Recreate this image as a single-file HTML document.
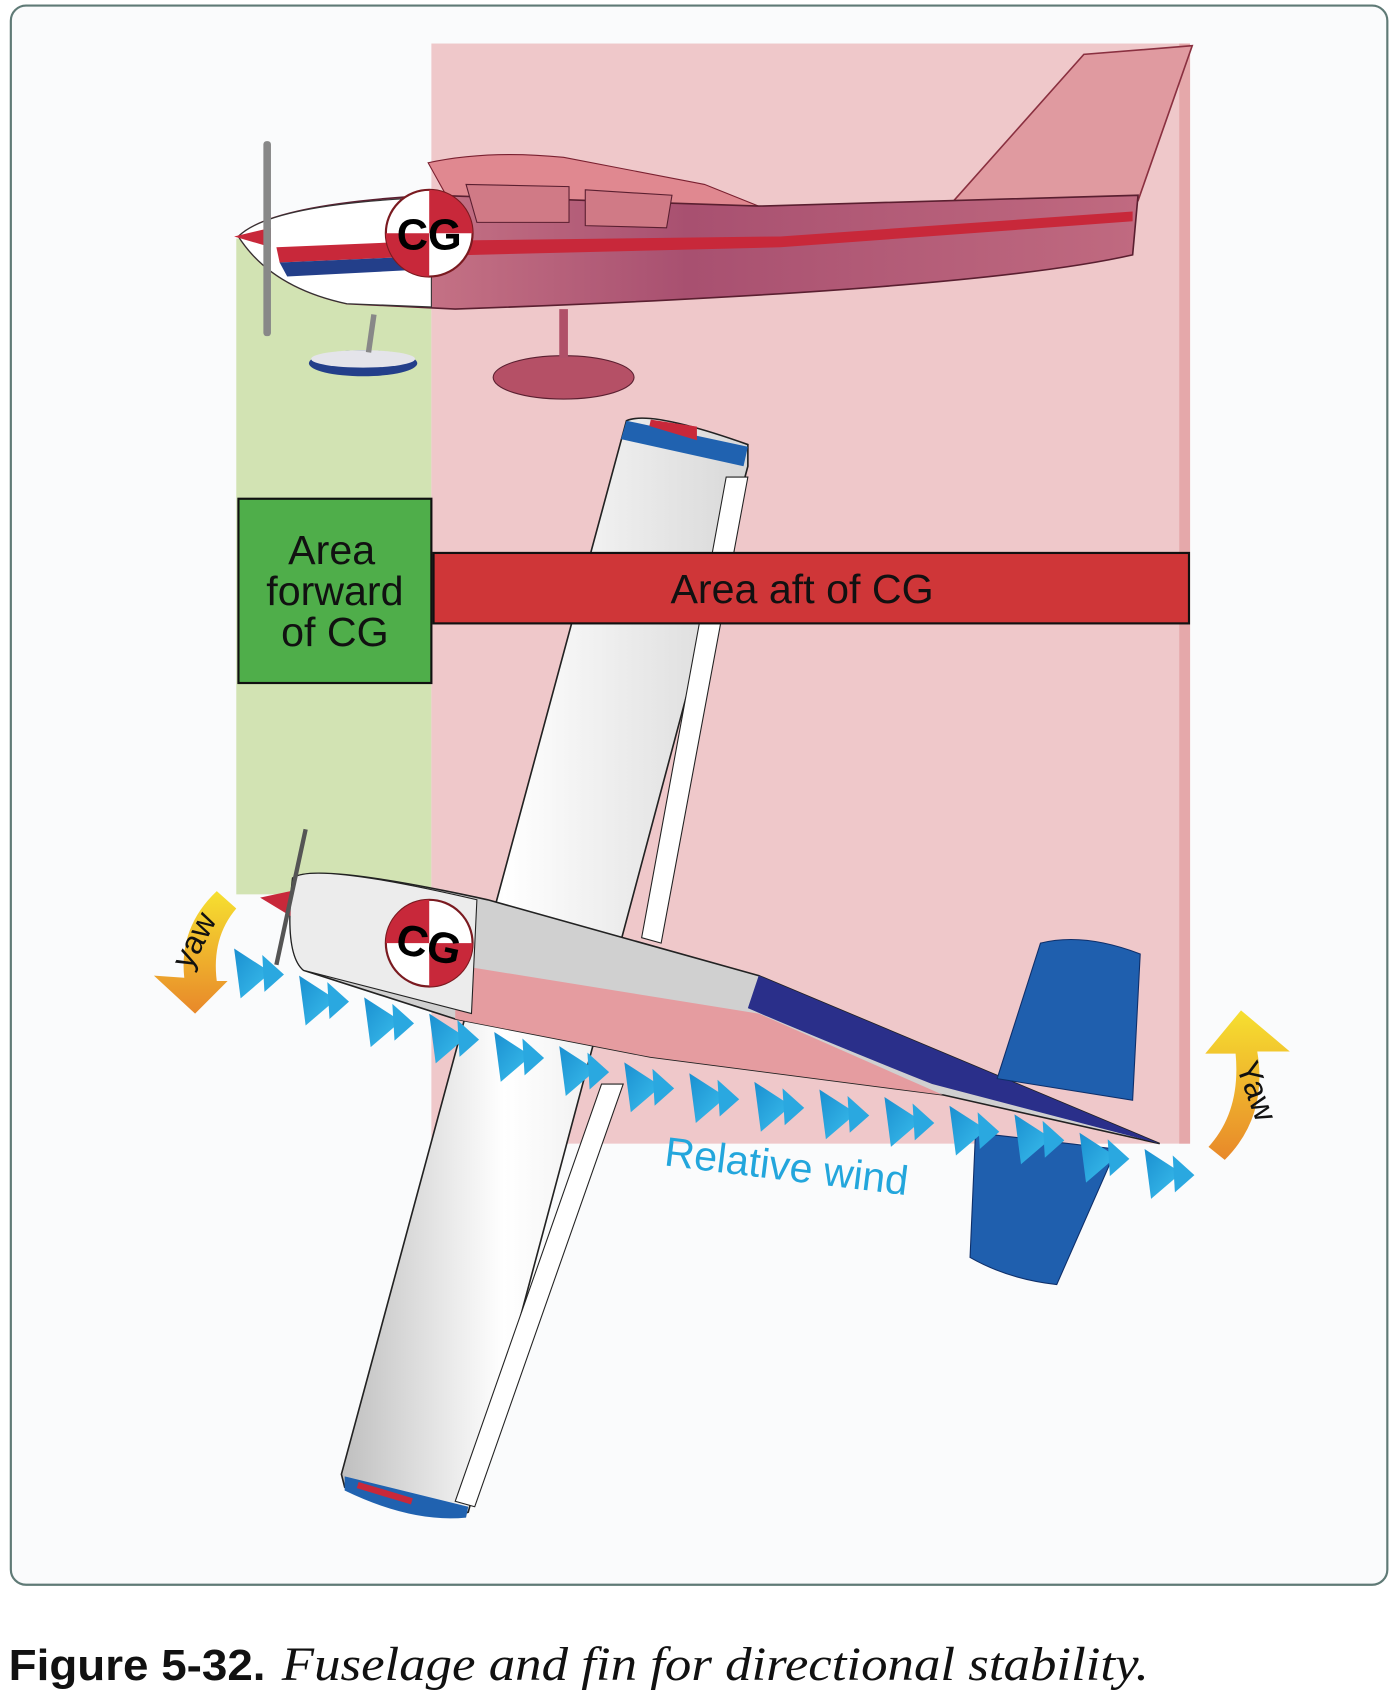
<!DOCTYPE html>
<html><head><meta charset="utf-8"><style>
html,body{margin:0;padding:0;background:#fff;}
svg{display:block;}
</style></head><body>
<svg width="1396" height="1702" viewBox="0 0 1288 1570" xmlns="http://www.w3.org/2000/svg" font-family="Liberation Sans, sans-serif">
<defs>
<linearGradient id="wing" x1="0" y1="0" x2="1" y2="0"><stop offset="0" stop-color="#bfbfbf"/><stop offset="0.4" stop-color="#fff"/><stop offset="1" stop-color="#d8d8d8"/></linearGradient>
<linearGradient id="fus" x1="0" y1="0" x2="1" y2="0"><stop offset="0" stop-color="#d98a94"/><stop offset="0.5" stop-color="#a85070"/><stop offset="1" stop-color="#c06a80"/></linearGradient>
<linearGradient id="arr" x1="0" y1="0" x2="1" y2="1"><stop offset="0" stop-color="#1a8fd0"/><stop offset="1" stop-color="#3cc0ee"/></linearGradient>
<linearGradient id="yaw" x1="0" y1="0" x2="0" y2="1"><stop offset="0" stop-color="#f6e030"/><stop offset="1" stop-color="#e8882a"/></linearGradient>
<g id="ar"><path d="M0,-20 L34,2 L6,26 Z" fill="url(#arr)"/><path d="M26,-14 L46,4 L28,20 Z" fill="#2aa8e0"/></g>
</defs>
<rect x="10" y="5" width="1270" height="1457" rx="14" fill="#fafbfc" stroke="#5f7a76" stroke-width="2"/>
<rect x="218" y="220" width="180" height="605" fill="#d2e3b3"/>
<rect x="398" y="40" width="700" height="1015" fill="#efc8ca"/>
<rect x="1088" y="40" width="10" height="1015" fill="#e5a8aa"/>
<!-- top plane -->
<path d="M880,185 L1000,50 L1100,42 L1050,185 Z" fill="#e09aa0" stroke="#8a3040" stroke-width="1.5"/>
<path d="M395,150 Q450,138 520,145 L650,170 L700,190 L420,195 Z" fill="#e08890" stroke="#7a2030"/>
<path d="M220,218 Q250,188 400,180 L700,190 L1050,180 L1045,235 Q900,268 420,285 L320,280 Q250,265 220,218 Z" fill="url(#fus)" stroke="#5a1f30" stroke-width="1.5"/>
<path d="M220,218 Q250,188 398,182 L398,283 L320,280 Q250,265 220,218 Z" fill="#fff" stroke="#333"/>
<path d="M255,228 L398,222 L720,218 L1045,195 L1045,204 L720,228 L398,236 L258,242 Z" fill="#c8283a"/>
<path d="M258,242 L398,236 L398,248 L265,255 Z" fill="#233f8a"/>
<path d="M430,170 L525,172 L525,205 L440,205 Z M540,175 L620,180 L615,210 L540,208 Z" fill="#d07a86" stroke="#5a1f30"/>
<path d="M216,218 L250,210 L250,228 Z" fill="#c8283a"/>
<rect x="243" y="130" width="7" height="180" rx="3" fill="#888"/>
<ellipse cx="335" cy="335" rx="50" ry="12" fill="#233f8a"/><ellipse cx="335" cy="331" rx="48" ry="8" fill="#e4e4ea"/>
<ellipse cx="520" cy="348" rx="65" ry="20" fill="#b55066" stroke="#5a1f30"/>
<path d="M345,290 L340,325" stroke="#888" stroke-width="5"/><path d="M520,285 L520,330" stroke="#b05068" stroke-width="8"/>
<circle cx="396" cy="215" r="40" fill="#fff" stroke="#7a1a20" stroke-width="2"/>
<path d="M396,175 A40,40 0 0 1 436,215 L396,215 Z M396,255 A40,40 0 0 1 356,215 L396,215 Z" fill="#c8283a"/>
<text x="396" y="230" font-size="40" font-weight="bold" text-anchor="middle">CG</text>
<!-- bottom plane wing -->
<path d="M578,388 Q600,378 690,410 L690,430 L432,1395 Q400,1410 318,1372 L315,1360 Z" fill="url(#wing)" stroke="#222" stroke-width="1.5"/>
<path d="M578,388 L690,412 L686,430 L573,405 Z" fill="#2062b0"/>
<path d="M318,1362 L432,1390 L430,1400 Q380,1405 318,1375 Z" fill="#2062b0"/>
<path d="M600,390 L640,402 L640,396 Z M330,1370 L380,1385" stroke="#c8283a" stroke-width="6"/>
<g stroke="#222" fill="#fff" stroke-width="1">
<path d="M670,440 L690,440 L610,870 L592,865 Z"/>
<path d="M555,1000 L575,1000 L438,1390 L420,1385 Z"/>
</g>
<!-- fuselage -->
<path d="M270,810 Q290,795 450,830 L700,900 L1070,1055 L870,1010 L600,975 L420,940 L280,895 Q262,880 270,810 Z" fill="#d0d0d0" stroke="#222" stroke-width="1.5"/>
<path d="M420,890 L700,935 L870,1010 L600,975 L420,940 Z" fill="#e59ca0"/>
<path d="M700,900 L1070,1055 L860,1000 Q760,960 690,930 Z" fill="#2a2f8a"/>
<path d="M270,810 Q290,795 440,830 L435,935 L280,895 Q262,880 270,810 Z" fill="#ececec" stroke="#222"/>
<path d="M240,828 L268,822 L268,845 Z" fill="#c8283a"/>
<path d="M282,765 L255,890" stroke="#555" stroke-width="4"/>
<path d="M960,870 Q1000,860 1052,880 L1045,1015 L920,995 Z" fill="#1f5fae" stroke="#0e2f6a"/>
<path d="M900,1045 L1030,1060 L975,1185 Q930,1180 895,1160 Z" fill="#1f5fae" stroke="#0e2f6a"/>
<circle cx="396" cy="870" r="40" fill="#fff" stroke="#7a1a20" stroke-width="2"/>
<path d="M396,830 A40,40 0 0 0 356,870 L396,870 Z M396,910 A40,40 0 0 0 436,870 L396,870 Z" fill="#c8283a"/>
<text x="396" y="885" font-size="40" font-weight="bold" text-anchor="middle" transform="rotate(12 396 870)">CG</text>
<!-- label boxes -->
<rect x="220" y="460" width="178" height="170" fill="#4fae4a" stroke="#111" stroke-width="2"/>
<text font-size="38" text-anchor="middle" fill="#111"><tspan x="306" y="520">Area</tspan><tspan x="309" y="558">forward</tspan><tspan x="309" y="596">of CG</tspan></text>
<rect x="400" y="510" width="697" height="65" fill="#cf3638" stroke="#111" stroke-width="2"/>
<text x="740" y="556" font-size="38" text-anchor="middle" fill="#111">Area aft of CG</text>
<!-- wind arrows -->
<g>
<use href="#ar" x="216" y="895"/><use href="#ar" x="276" y="920"/><use href="#ar" x="336" y="940"/><use href="#ar" x="396" y="955"/>
<use href="#ar" x="456" y="972"/><use href="#ar" x="516" y="985"/><use href="#ar" x="576" y="1000"/><use href="#ar" x="636" y="1010"/>
<use href="#ar" x="696" y="1018"/><use href="#ar" x="756" y="1025"/><use href="#ar" x="816" y="1032"/><use href="#ar" x="876" y="1040"/>
<use href="#ar" x="936" y="1048"/><use href="#ar" x="996" y="1065"/><use href="#ar" x="1056" y="1080"/>
</g>
<text x="612" y="1075" font-size="38" fill="#23a6dc" transform="rotate(7 612 1075)">Relative wind</text>
<!-- yaw arrows -->
<path d="M200,822 L218,838 Q195,865 200,905 L210,905 L180,935 L142,900 L170,902 Q165,855 200,822 Z" fill="url(#yaw)"/>
<text x="188" y="872" font-size="30" fill="#111" transform="rotate(-62 188 872)" text-anchor="middle">yaw</text>
<path d="M1115,1058 L1130,1070 Q1170,1030 1160,970 L1190,970 L1145,932 L1112,972 L1140,972 Q1145,1025 1115,1058 Z" fill="url(#yaw)"/>
<text x="1150" y="1010" font-size="30" fill="#111" transform="rotate(70 1150 1010)" text-anchor="middle">Yaw</text>
<!-- caption -->
<text x="8" y="1550" font-size="40" font-weight="bold" fill="#111" textLength="237" lengthAdjust="spacingAndGlyphs">Figure 5-32.</text>
<text x="260" y="1550" font-size="44" font-style="italic" font-family="Liberation Serif, serif" fill="#111" textLength="800" lengthAdjust="spacingAndGlyphs">Fuselage and fin for directional stability.</text>
</svg>
</body></html>
